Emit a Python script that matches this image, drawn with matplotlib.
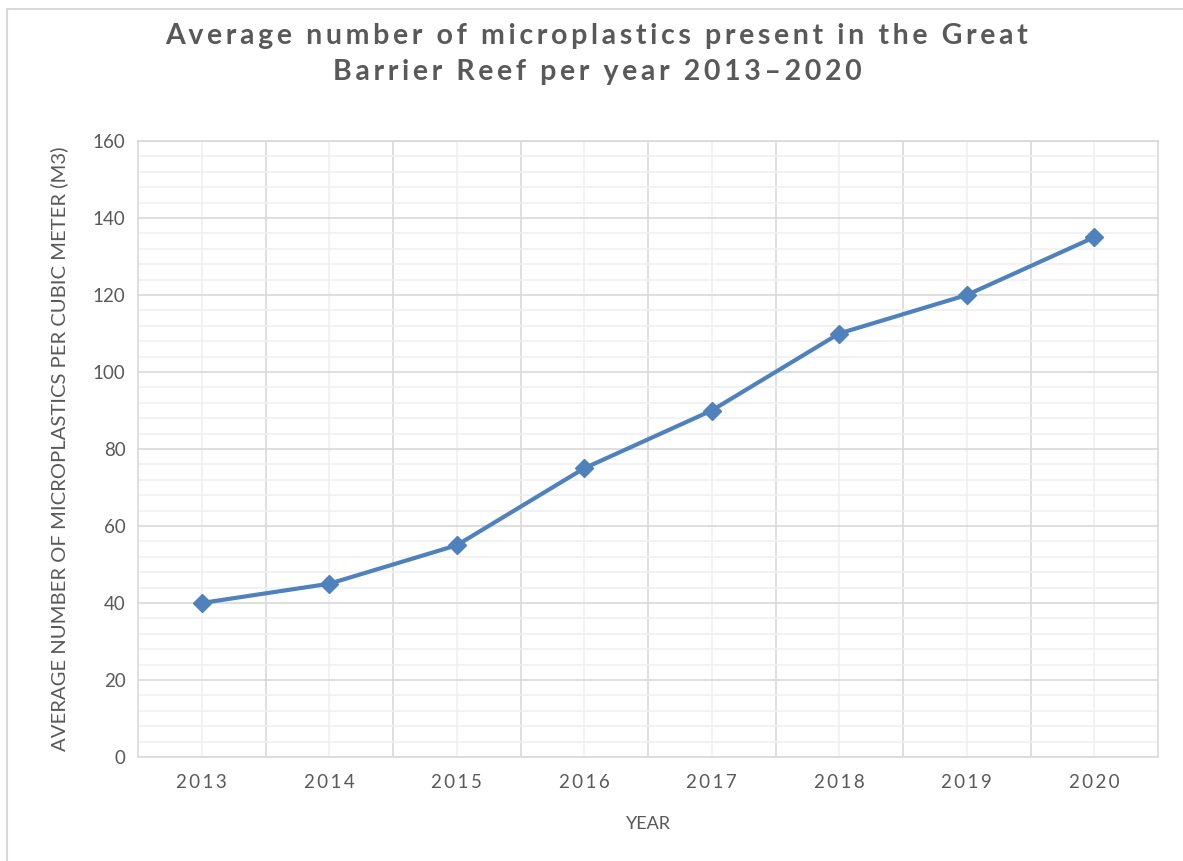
import matplotlib
matplotlib.use("Agg")
import matplotlib.pyplot as plt
from matplotlib.patches import Rectangle

years = ["2013", "2014", "2015", "2016", "2017", "2018", "2019", "2020"]
microplastics = [40, 45, 55, 75, 90, 110, 120, 135]

title = "Average number of microplastics present in the Great\nBarrier Reef per year 2013\u20132020"
x_label = "YEAR"
y_label = "AVERAGE NUMBER OF MICROPLASTICS PER CUBIC METER (M3)"

text_color = "#595959"
line_color = "#4F81BD"
fonts = ["Lato", "DejaVu Sans"]


def spaced(s, sep="\u2009"):
    # fake the letter spacing of the original with thin spaces
    return "\n".join(sep.join(line) for line in s.split("\n"))


W, H = 1183, 861
fig = plt.figure(figsize=(W / 100, H / 100), dpi=100)
plt.rcParams["font.family"] = fonts

# outer chart border
fig.patches.append(Rectangle((7 / W, -0.1), 1.2, 1 - 9 / H + 0.1, transform=fig.transFigure,
                             fill=False, edgecolor="#D9D9D9", linewidth=1.5))

ax = fig.add_axes([138 / W, 1 - 757 / H, (1158 - 138) / W, (757 - 141) / H])

x = list(range(len(years)))
ax.plot(x, microplastics, color=line_color, linewidth=3, marker="D", markersize=9,
        zorder=3)

ax.set_xlim(-0.5, len(years) - 0.5)
ax.set_ylim(0, 160)
ax.set_yticks(range(0, 161, 20))
ax.set_yticks(range(0, 161, 4), minor=True)
ax.set_xticks([i + 0.5 for i in x[:-1]])
ax.set_xticks(x, minor=True)
ax.set_xticklabels([])
ax.set_xticklabels([spaced(y) for y in years], minor=True)

ax.grid(which="major", color="#D9D9D9", linewidth=1.2)
ax.grid(which="minor", color="#F0F0F0", linewidth=1.2)
ax.set_axisbelow(True)
for s in ax.spines.values():
    s.set_color("#D9D9D9")
    s.set_linewidth(1.2)

ax.tick_params(which="both", length=0, colors=text_color, labelsize=13.5)
ax.tick_params(axis="y", pad=9)
ax.tick_params(axis="x", which="minor", pad=12)

ax.set_xlabel(x_label, color=text_color, fontsize=13, labelpad=18)
ax.set_ylabel(y_label, color=text_color, fontsize=14.6, labelpad=18)

fig.text(597 / W, 1 - 54 / H, spaced(title), ha="center", va="center", fontsize=20.5,
         fontweight="bold", color=text_color, linespacing=1.5)

fig.savefig("out.png", dpi=100)
